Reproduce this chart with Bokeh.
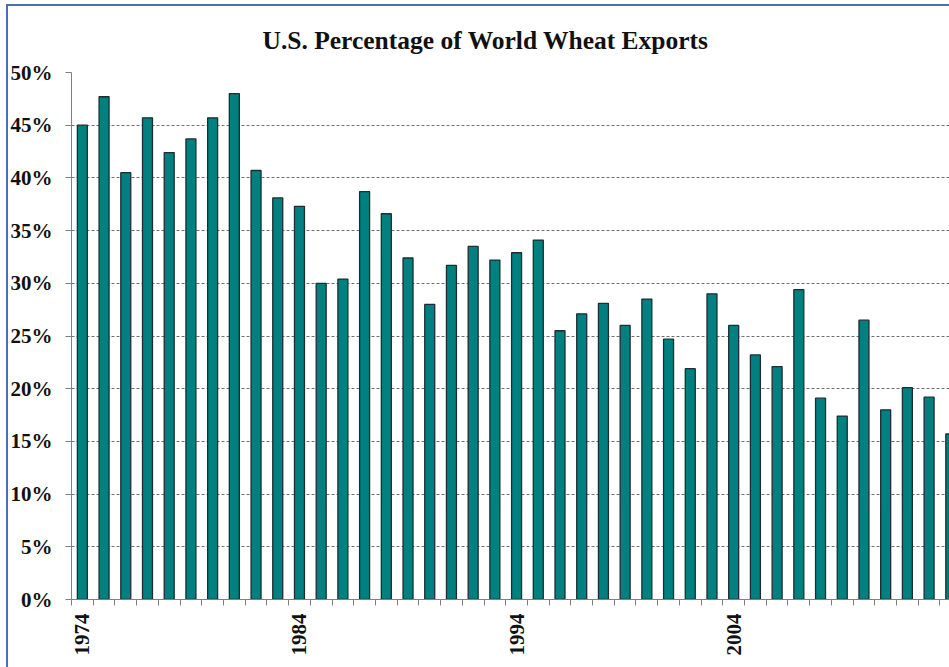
from bokeh.plotting import figure
from bokeh.models import Range1d, FixedTicker, PrintfTickFormatter, Label, InlineStyleSheet
from bokeh.embed import file_html
from bokeh.resources import INLINE
from math import pi

years = list(range(1974, 2015))
share = [45.0, 47.7, 40.5, 45.7, 42.4, 43.7, 45.7, 48.0, 40.7, 38.1,
         37.3, 30.0, 30.4, 38.7, 36.6, 32.4, 28.0, 31.7, 33.5, 32.2,
         32.9, 34.1, 25.5, 27.1, 28.1, 26.0, 28.5, 24.7, 21.9, 29.0,
         26.0, 23.2, 22.1, 29.4, 19.1, 17.4, 26.5, 18.0, 20.1, 19.2,
         15.7]
label_years = [1974, 1984, 1994, 2004, 2014]
y_ticks = [0, 5, 10, 15, 20, 25, 30, 35, 40, 45, 50]

SERIF = "Liberation Serif"
BORDER = "#4a70b4"

css = InlineStyleSheet(css=f""":host {{
  background:
    linear-gradient({BORDER},{BORDER}) 6px 4px / 2px 663px no-repeat,
    linear-gradient({BORDER},{BORDER}) 6px 4px / 943px 2px no-repeat,
    #ffffff;
}}""")

p = figure(width=949, height=667, output_backend="svg", toolbar_location=None,
           x_range=Range1d(1973.5, 2013.94), y_range=Range1d(0, 50),
           min_border_left=71, min_border_right=0, min_border_top=72, min_border_bottom=68,
           title="U.S. Percentage of World Wheat Exports")
p.stylesheets = [css]
p.border_fill_color = None
p.outline_line_color = None
p.background_fill_color = "white"

p.title.align = "left"
p.title.offset = 191
p.title.text_font = SERIF
p.title.text_font_size = "25.5px"
p.title.text_font_style = "bold"
p.title.text_color = "#111111"
p.title.standoff = 35

p.vbar(x=years, top=share, width=0.46, fill_color="#008080",
       line_color="#1e2e2e", line_width=1.3)

# x axis
p.xaxis.ticker = FixedTicker(ticks=label_years, minor_ticks=[y - 0.5 for y in years] + [years[-1] + 0.5])
p.xaxis.major_tick_line_color = None
p.xaxis.minor_tick_out = 6
p.xaxis.minor_tick_in = 0
p.xaxis.minor_tick_line_color = "#808080"
p.xaxis.axis_line_color = "#808080"
p.xaxis.major_label_orientation = pi / 2
p.xaxis.major_label_standoff = 8
p.xaxis.major_label_text_font = SERIF
p.xaxis.major_label_text_font_size = "21px"
p.xaxis.major_label_text_font_style = "bold"
p.xaxis.major_label_text_color = "#111111"

# y axis
p.yaxis.ticker = FixedTicker(ticks=y_ticks)
p.yaxis.formatter = PrintfTickFormatter(format="%d%%")
p.yaxis.major_tick_out = 6
p.yaxis.major_tick_in = 0
p.yaxis.minor_tick_line_color = None
p.yaxis.major_tick_line_color = "#808080"
p.yaxis.axis_line_color = "#808080"
p.yaxis.major_label_standoff = 13
p.yaxis.major_label_text_font = SERIF
p.yaxis.major_label_text_font_size = "21px"
p.yaxis.major_label_text_font_style = "bold"
p.yaxis.major_label_text_color = "#111111"

p.xgrid.grid_line_color = None
p.ygrid.grid_line_color = "#707070"
p.ygrid.grid_line_dash = "3 2"
p.ygrid.grid_line_width = 1

# last year's label, which sits at the cropped right edge as in the source
p.add_layout(Label(x=label_years[-1], y=-1.33, text=str(label_years[-1]), angle=pi / 2,
                   text_align="right", text_baseline="middle", text_font=SERIF,
                   text_font_size="21px", text_font_style="bold", text_color="#111111"))

open("out.html", "w").write(file_html(p, INLINE))
